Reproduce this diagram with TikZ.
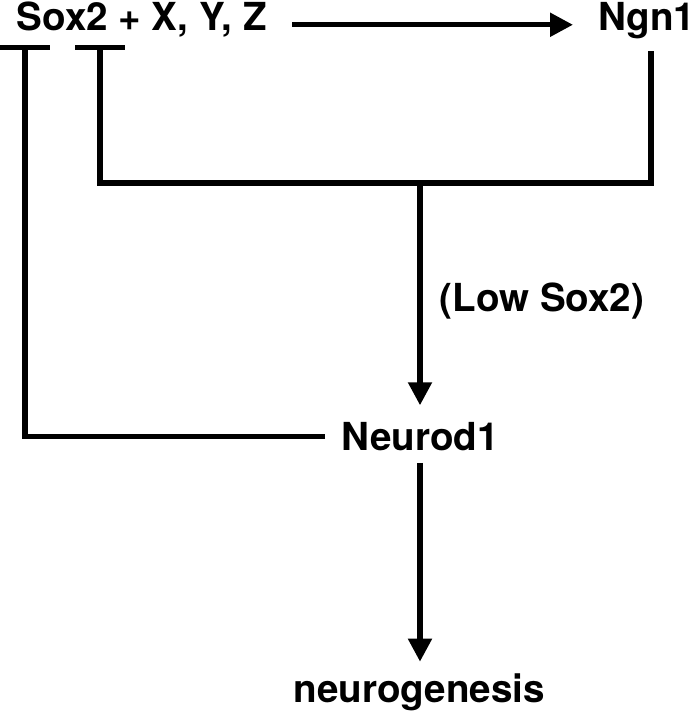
\documentclass[tikz,border=0pt]{standalone}
\usepackage{fontspec}
\setmainfont{TeX Gyre Heros}
\usepackage{tikz}
\usetikzlibrary{arrows.meta}

\begin{document}
\begin{tikzpicture}[x=0.5pt,y=-0.5pt,line width=2.6pt,
  gene/.style={inner sep=0pt,font=\fontsize{19.3}{23}\selectfont\bfseries},
  act/.style={-{Triangle[length=11.5pt,width=11.5pt]}},
  inh/.style={-{Bar[width=25pt]}}]

  \useasboundingbox (0,0) rectangle (694,719);

  \node[gene,anchor=base west] (sox) at (14,30) {Sox2 + X, Y, Z};
  \node[gene,anchor=base west] (ngn) at (596,30) {Ngn1};
  \node[gene,anchor=base west] (neurod) at (339,450) {Neurod1};
  \node[gene,anchor=base west] (neuro) at (291,702) {neurogenesis};

  \coordinate (jr) at (651,183);
  \coordinate (jm) at (420,183);
  \coordinate (jl) at (100,183);
  \coordinate (soxbar) at (25,45);
  \coordinate (xyzbar) at (100,45);
  \coordinate (bl) at (soxbar |- neurod.west);

  % activation
  \draw[act,shorten <=11.5pt,shorten >=11.5pt] (sox.mid east) -- (ngn.mid west |- sox.mid east);
  \draw[act,shorten >=7pt] (jm) -- (neurod.north -| jm)
    node[gene,midway,right=8.5pt] (low) {(Low Sox2)};
  \draw[act,shorten <=5pt,shorten >=4.5pt] (neurod.south -| jm) -- (neuro.north -| jm);

  % repression
  \draw[inh,shorten <=5pt] (ngn.south -| jr) -- (jr) -- (jl) -- (xyzbar);
  \draw[inh,shorten <=7pt] (neurod.west) -- (bl) -- (soxbar);
\end{tikzpicture}
\end{document}
